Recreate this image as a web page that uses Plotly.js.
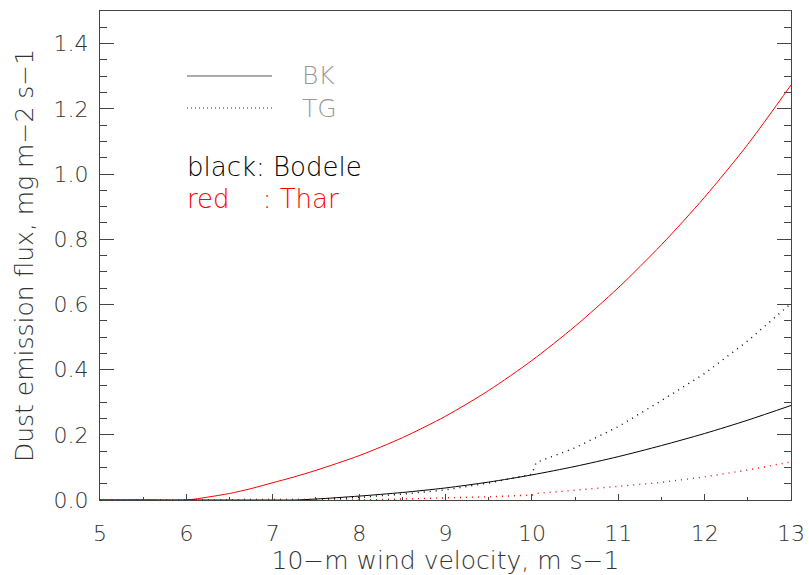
<!DOCTYPE html>
<html>
<head>
<meta charset="utf-8">
<script src="https://cdn.plot.ly/plotly-3.0.1.min.js"></script>
<style>html,body{margin:0;padding:0;background:#fff;}</style>
</head>
<body>
<div id="chart" style="width:809px;height:575px;"></div>
<script>
// 10-m wind velocity (m s-1)
const windBK = [5, 5.5, 6, 6.25, 6.5, 6.75, 7, 7.25, 7.5, 8, 8.5, 9, 9.5, 10, 10.5, 11, 11.5, 12, 12.5, 13];
const windTG = [5, 5.5, 6, 6.5, 7, 7.5, 8, 8.5, 9, 9.5, 10, 10.05, 10.5, 11, 11.5, 12, 12.5, 13];

// BK scheme (solid lines)
const theBodeleBK = [0, 0, 0, 0, 0, 0, 0, 0, 0.003, 0.012, 0.023, 0.037, 0.055, 0.077, 0.103, 0.133, 0.167, 0.204, 0.245, 0.290];
const theTharBK   = [0, 0, 0, 0.009, 0.020, 0.035, 0.053, 0.071, 0.091, 0.136, 0.191, 0.257, 0.336, 0.428, 0.533, 0.651, 0.783, 0.929, 1.091, 1.273];

// TG scheme (dotted lines)
const theBodeleTG = [0, 0, 0, 0, 0, 0.002, 0.008, 0.018, 0.031, 0.052, 0.079, 0.115, 0.160, 0.225, 0.305, 0.388, 0.488, 0.603];
const theTharTG   = [0, 0, 0, 0, 0, 0, 0, 0.003, 0.006, 0.010, 0.015, 0.020, 0.030, 0.041, 0.054, 0.071, 0.092, 0.117];

const xTickVals = [5, 6, 7, 8, 9, 10, 11, 12, 13];
const yTickVals = [0, 0.2, 0.4, 0.6, 0.8, 1.0, 1.2, 1.4];

const FONT = "DejaVu Sans ExtraLight, DejaVu Sans Light, DejaVu Sans, sans-serif";
const dotDash = "1px,5px";

const traces = [
  {x: windBK, y: theTharBK, mode: "lines", line: {color: "#ff0000", width: 1, shape: "spline", smoothing: 0.8}, name: "Thar BK"},
  {x: windBK, y: theBodeleBK, mode: "lines", line: {color: "#000000", width: 1, shape: "spline", smoothing: 0.8}, name: "Bodele BK"},
  {x: windTG, y: theBodeleTG, mode: "lines", line: {color: "#000000", width: 1.4, dash: dotDash}, name: "Bodele TG"},
  {x: windTG, y: theTharTG, mode: "lines", line: {color: "#ff0000", width: 1.4, dash: dotDash}, name: "Thar TG"}
];

const layout = {
  width: 809, height: 575,
  margin: {l: 100, r: 18, t: 11, b: 75},
  paper_bgcolor: "#ffffff", plot_bgcolor: "#ffffff",
  showlegend: false,
  font: {family: FONT, color: "#333333", size: 22},
  xaxis: {
    range: [5, 13], tickvals: xTickVals, ticktext: xTickVals.map(String),
    ticks: "inside", ticklen: 6, tickwidth: 1, tickcolor: "#444",
    minor: {dtick: 0.5, tick0: 5, ticks: "inside", ticklen: 3, tickcolor: "#444"},
    showline: true, linecolor: "#444", linewidth: 1, mirror: true,
    showgrid: false, zeroline: false,
    ticklabelstandoff: 14,
    tickfont: {size: 22, color: "#333"},
    title: {text: "10\u2212m wind velocity, m s\u22121", font: {size: 25, color: "#333"}, standoff: 4}
  },
  yaxis: {
    range: [0, 1.5], tickvals: yTickVals, tickformat: ".1f",
    ticks: "inside", ticklen: 14, tickwidth: 1, tickcolor: "#444",
    minor: {dtick: 0.05, tick0: 0, ticks: "inside", ticklen: 7, tickcolor: "#444"},
    showline: true, linecolor: "#444", linewidth: 1, mirror: "ticks",
    showgrid: false, zeroline: false,
    ticklabelstandoff: 6,
    tickfont: {size: 22, color: "#333"},
    title: {text: "Dust emission flux, mg m\u22122 s\u22121", font: {size: 25, color: "#333"}, standoff: 12}
  },
  shapes: [
    {type: "line", xref: "paper", yref: "paper", x0: 0.1259, x1: 0.2489, y0: 0.8671, y1: 0.8671, line: {color: "#555", width: 1}},
    {type: "line", xref: "paper", yref: "paper", x0: 0.1259, x1: 0.2489, y0: 0.8016, y1: 0.8016, line: {color: "#777", width: 1.3, dash: "1px,3px"}}
  ],
  annotations: [
    {xref: "paper", yref: "paper", x: 0.2894, y: 0.8671, xanchor: "left", yanchor: "middle", showarrow: false, text: "BK", font: {family: FONT, size: 25, color: "#999999"}},
    {xref: "paper", yref: "paper", x: 0.2894, y: 0.8016, xanchor: "left", yanchor: "middle", showarrow: false, text: "TG", font: {family: FONT, size: 25, color: "#999999"}},
    {xref: "paper", yref: "paper", x: 0.1230, y: 0.681, xanchor: "left", yanchor: "middle", showarrow: false, text: "black: Bodele", font: {family: FONT, size: 26, color: "#000000"}},
    {xref: "paper", yref: "paper", x: 0.1230, y: 0.6155, xanchor: "left", yanchor: "middle", showarrow: false, text: "red\u00a0\u00a0\u00a0\u00a0: Thar", font: {family: FONT, size: 26, color: "#ff0000"}}
  ]
};

Plotly.newPlot("chart", traces, layout, {displayModeBar: false, staticPlot: true});
</script>
</body>
</html>
